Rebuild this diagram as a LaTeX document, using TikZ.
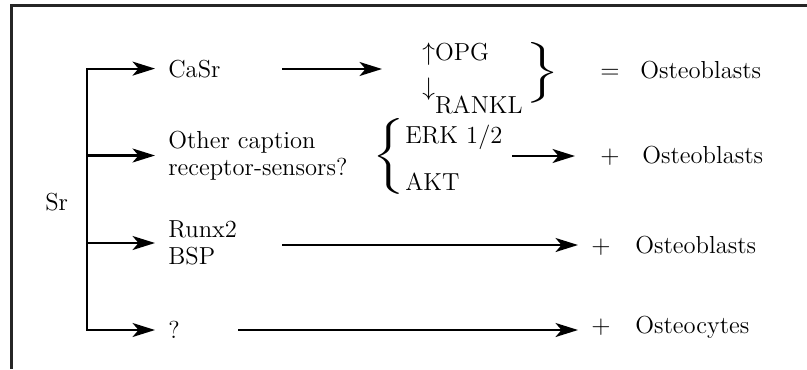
\documentclass[tikz,border=0pt]{standalone}
\usepackage{amsmath}
\usepackage{tikz}
\usetikzlibrary{arrows.meta}

\tikzset{
  pfeil/.style={-{Stealth[length=0.45cm,width=0.28cm,inset=0.12cm]},line width=1.2pt},
  txt/.style={inner sep=0pt,font=\fontsize{14}{15.4}\selectfont,align=left},
}

\begin{document}
\begin{tikzpicture}[x=0.02cm,y=-0.02cm]
	\useasboundingbox (0,0) rectangle (807,369);
	% Rahmen: nur oben und links
	\draw[line width=1.7pt,black!85] (807,5.5) -- (11.5,5.5) -- (11.5,369);
	% Texte links
	\node[txt,anchor=base west] (sr) at (45,210) {Sr};
	\node[txt,anchor=base west] (casr) at (168,77) {CaSr};
	\node[txt,anchor=west] (other) at (168,155.5) {Other caption\\receptor-sensors?};
	\node[txt,anchor=west] (runx) at (168,243) {Runx2\\BSP};
	\node[txt,anchor=west] (frage) at (168,330) {?};
	% Mitte
	\node[txt,anchor=base west] (opg) at (422,60) {$\uparrow$OPG};
	\node[txt,anchor=base west] (rankl) at (422,113) {\raisebox{10pt}{$\downarrow$}RANKL};
	\node[txt,anchor=base west] (erk) at (405,143) {ERK 1/2};
	\node[txt,anchor=base west] (akt) at (405,190) {AKT};
	% Klammern
	\node[txt] (kr) at (541,72.5) {\scalebox{1.8}[1]{$\left.\vcenter{\hbox{\rule{0pt}{37pt}}}\right\}$}};
	\node[txt] (kl) at (390,156) {\scalebox{1.6}[1]{$\left\{\vcenter{\hbox{\rule{0pt}{41pt}}}\right.$}};
	% Ergebnisse rechts
	\node[txt,anchor=base west] (gleich1) at (600,78) {$=$};
	\node[txt,anchor=base west] (ob1) at (640,78) {Osteoblasts};
	\node[txt,anchor=base west] (plus2) at (600,163) {$+$};
	\node[txt,anchor=base west] (ob2) at (642,163) {Osteoblasts};
	\node[txt,anchor=base west] (plus3) at (591,253) {$+$};
	\node[txt,anchor=base west] (ob3) at (635,253) {Osteoblasts};
	\node[txt,anchor=base west] (plus4) at (591,333) {$+$};
	\node[txt,anchor=base west] (oc4) at (635,333) {Osteocytes};
	% Stamm und Verzweigungen
	\coordinate (stamm) at (87,0);
	\draw[line width=1.2pt,line cap=rect] (casr.west -| stamm) -- (frage.west -| stamm);
	\foreach \n in {casr,other,runx,frage}
	\draw[pfeil,shorten >=0.26cm] (\n.west -| stamm) -- (\n.west);
	% Pfeile nach rechts
	\coordinate (a1) at (282,69);
	\coordinate (a2) at (512,156);
	\coordinate (a3) at (282,245);
	\coordinate (a4) at (238,330);
	\draw[pfeil,shorten >=0.8cm] (a1) -- (opg.west |- a1);
	\draw[pfeil,shorten >=0.5cm] (a2) -- (plus2.west |- a2);
	\draw[pfeil,shorten >=0.26cm] (a3) -- (plus3.west |- a3);
	\draw[pfeil,shorten >=0.26cm] (a4) -- (plus4.west |- a4);
\end{tikzpicture}
\end{document}
